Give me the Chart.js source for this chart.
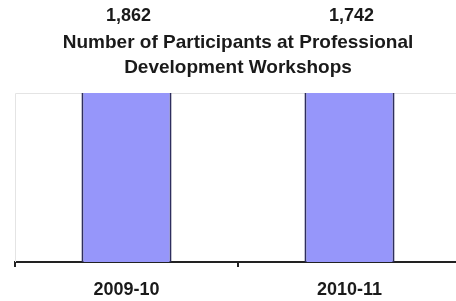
<!DOCTYPE html>
<html><head><meta charset="utf-8">
<script src="https://cdn.jsdelivr.net/npm/chart.js@4"></script>
<style>
html,body{margin:0;padding:0;background:#fff;overflow:hidden;}
#wrap{width:456px;height:301px;overflow:hidden;position:relative;}
#box{width:462px;height:301px;position:absolute;left:0;top:0;}
</style></head>
<body><div id="wrap"><div id="box"><canvas id="c"></canvas></div></div>
<script>
const categories = ["2009-10", "2010-11"];
const participants = [1862, 1742];
const valueLabels = ["1,862", "1,742"];
const titleLines = ["Number of Participants at Professional", "Development Workshops"];

const FONT = "'Liberation Sans', Arial, sans-serif";

const frame = {
  id: 'frame',
  beforeDatasetsDraw(chart) {
    const a = chart.chartArea, ctx = chart.ctx;
    ctx.save();
    ctx.strokeStyle = '#e4e4e4';
    ctx.lineWidth = 1;
    ctx.beginPath();
    ctx.moveTo(a.left + 0.5, a.bottom);
    ctx.lineTo(a.left + 0.5, a.top + 0.5);
    ctx.lineTo(a.right, a.top + 0.5);
    ctx.stroke();
    ctx.restore();
  },
  afterDraw(chart) {
    const ctx = chart.ctx, meta = chart.getDatasetMeta(0);
    ctx.save();
    ctx.font = "bold 18px " + FONT;
    ctx.fillStyle = '#1a1a1a';
    ctx.textAlign = 'center';
    ctx.textBaseline = 'middle';
    meta.data.forEach((bar, i) => {
      ctx.fillText(valueLabels[i], bar.x + 2, 16);
    });
    ctx.restore();
  }
};

new Chart(document.getElementById('c'), {
  type: 'bar',
  data: {
    labels: categories,
    datasets: [{
      data: participants,
      backgroundColor: '#9696FA',
      borderColor: '#2E2E5E',
      borderWidth: {left: 2, right: 2, top: 0, bottom: 0},
      borderSkipped: false,
      categoryPercentage: 1,
      barPercentage: 0.404
    }]
  },
  options: {
    responsive: true,
    maintainAspectRatio: false,
    animation: false,
    layout: {padding: {left: 15, right: 1, top: 0, bottom: 0}},
    plugins: {
      legend: {display: false},
      tooltip: {enabled: false},
      title: {
        display: true,
        text: titleLines,
        color: '#1a1a1a',
        font: {family: FONT, size: 19, weight: 'bold', lineHeight: 1.316},
        padding: {top: 30.5, bottom: 12.5}
      }
    },
    scales: {
      x: {
        grid: {display: true, drawOnChartArea: false, drawTicks: true, tickLength: 5, color: '#222', lineWidth: 2, offset: true},
        border: {display: true, color: '#222', width: 2},
        ticks: {color: '#1a1a1a', padding: 12, font: {family: FONT, size: 18, weight: 'bold'}},
        afterFit(scale) { scale.height = 39; }
      },
      y: {
        display: false,
        min: 0,
        max: 1000
      }
    }
  },
  plugins: [frame]
});
</script>
</body></html>
